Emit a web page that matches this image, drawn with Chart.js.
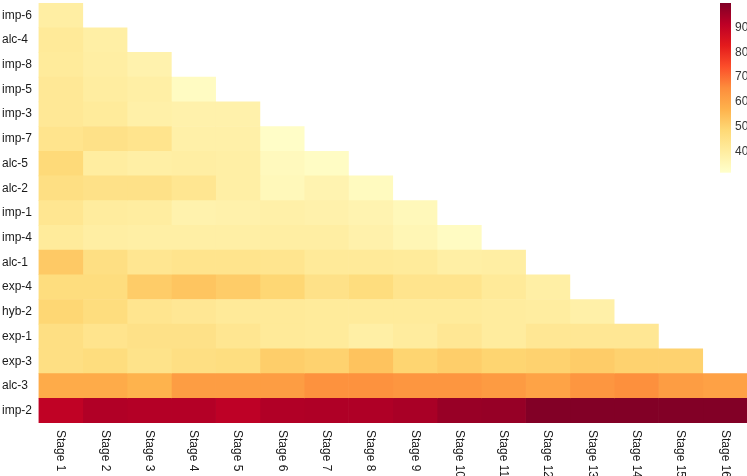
<!DOCTYPE html>
<html>
<head>
<meta charset="utf-8">
<script src="https://cdn.jsdelivr.net/npm/chart.js@4.4.0/dist/chart.umd.min.js"></script>
<style>
  html, body { margin: 0; padding: 0; background: #fff; }
  #wrap { width: 747px; height: 476px; }
</style>
</head>
<body>
<div id="wrap"><canvas id="heat"></canvas></div>
<script>
// rows, top to bottom
const rowLabels = ['imp-6','alc-4','imp-8','imp-5','imp-3','imp-7','alc-5','alc-2','imp-1','imp-4','alc-1','exp-4','hyb-2','exp-1','exp-3','alc-3','imp-2'];
const stageLabels = ['Stage 1','Stage 2','Stage 3','Stage 4','Stage 5','Stage 6','Stage 7','Stage 8','Stage 9','Stage 10','Stage 11','Stage 12','Stage 13','Stage 14','Stage 15','Stage 16'];

// values per row, starting at Stage 1
const imp6 = [39.5];
const alc4 = [41.5, 39];
const imp8 = [41, 39.5, 37.5];
const imp5 = [42, 40, 39, 33.5];
const imp3 = [42, 41, 38.5, 38, 38];
const imp7 = [44, 45, 44, 38.5, 38.5, 32.5];
const alc5 = [48, 40, 39, 39.5, 39, 34.5, 33];
const alc2 = [46, 45, 45, 43, 39, 35, 37, 34];
const imp1 = [43, 40.5, 40, 37.5, 38, 38.5, 38, 37, 35];
const imp4 = [41, 39.5, 39, 39, 39, 39.5, 39.5, 38, 36, 33.5];
const alc1 = [52, 46, 43, 44, 44, 43.5, 41.5, 41.5, 41, 39, 39.5];
const exp4 = [47, 47, 51.5, 53, 51.5, 49, 45, 47, 44, 44, 41.5, 39];
const hyb2 = [49, 47, 43.5, 42.5, 41.5, 41.5, 41, 41, 41, 41, 40.5, 40, 38.5];
const exp1 = [46, 44, 45, 45, 43, 41.5, 41, 39, 40.5, 42.5, 40.5, 42.5, 42.5, 42.5];
const exp3 = [46, 47, 44.5, 46, 46.5, 51, 50, 53.5, 49.5, 51, 49.5, 50, 51.5, 50, 50];
const alc3 = [58.7, 58.7, 57, 62, 62, 62, 64.5, 64.5, 63.5, 63.5, 62.5, 60.5, 63.5, 65, 62, 61];
const imp2 = [90.5, 93, 92.5, 92.5, 91, 93, 93.2, 93.2, 94.1, 96.5, 96.7, 99.5, 99.5, 99.5, 99.5, 99.5];

const rows = [imp6, alc4, imp8, imp5, imp3, imp7, alc5, alc2, imp1, imp4, alc1, exp4, hyb2, exp1, exp3, alc3, imp2];

const colorMin = 31.5, colorMax = 99.8;
const colorbarTicks = [40, 50, 60, 70, 80, 90];

// YlOrRd
const ramp = ['#ffffcc','#ffeda0','#fed976','#feb24c','#fd8d3c','#fc4e2a','#e31a1c','#bd0026','#800026'];
function hexRgb(h) { return [1,3,5].map(i => parseInt(h.substr(i,2),16)); }
const rampRgb = ramp.map(hexRgb);
function colorFor(v) {
    let t = (v - colorMin) / (colorMax - colorMin);
    t = Math.max(0, Math.min(1, t));
    let p = t * (rampRgb.length - 1);
    let i = Math.min(rampRgb.length - 2, Math.floor(p));
    let f = p - i;
    let c = rampRgb[i].map((a, k) => Math.round(a + (rampRgb[i+1][k] - a) * f));
    return `rgb(${c[0]},${c[1]},${c[2]})`;
}

// one dataset per stage, floating horizontal bars spanning [s, s+1]
const datasets = stageLabels.map((lab, s) => ({
    label: lab,
    data: rows.map(r => r[s] !== undefined ? [s, s + 1] : null),
    backgroundColor: rows.map(r => r[s] !== undefined ? colorFor(r[s]) : 'rgba(0,0,0,0)'),
    borderWidth: 0,
    grouped: false,
    categoryPercentage: 1.0,
    barPercentage: 1.0
}));

const stageLabelPlugin = {
    id: 'stageLabels',
    afterDraw(chart) {
        const ctx = chart.ctx;
        const xs = chart.scales.x;
        const top = chart.chartArea.bottom + 7;
        ctx.save();
        ctx.font = '12px "Liberation Sans", Arial, sans-serif';
        ctx.fillStyle = '#1a1a1a';
        ctx.textAlign = 'left';
        ctx.textBaseline = 'middle';
        stageLabels.forEach((lab, i) => {
            const x = xs.getPixelForValue(i + 0.5);
            ctx.save();
            ctx.translate(x, top);
            ctx.rotate(Math.PI / 2);
            ctx.fillText(lab, 0, 0);
            ctx.restore();
        });
        ctx.restore();
    }
};

const colorbarPlugin = {
    id: 'colorbar',
    afterDraw(chart) {
        const ctx = chart.ctx;
        const x0 = 720, w = 11, y0 = 3, y1 = 172.7;
        const grad = ctx.createLinearGradient(0, y1, 0, y0);
        ramp.forEach((c, i) => grad.addColorStop(i / (ramp.length - 1), c));
        ctx.save();
        ctx.fillStyle = grad;
        ctx.fillRect(x0, y0, w, y1 - y0);
        ctx.font = '12px "Liberation Sans", Arial, sans-serif';
        ctx.fillStyle = '#333';
        ctx.textAlign = 'left';
        ctx.textBaseline = 'middle';
        colorbarTicks.forEach(v => {
            const y = y1 - (v - colorMin) / (colorMax - colorMin) * (y1 - y0);
            ctx.fillText(String(v), x0 + w + 4, y);
        });
        ctx.restore();
    }
};

new Chart(document.getElementById('heat'), {
    type: 'bar',
    data: { labels: rowLabels, datasets: datasets },
    options: {
        indexAxis: 'y',
        responsive: true,
        maintainAspectRatio: false,
        animation: false,
        layout: { padding: { top: 3, right: 0, bottom: 53, left: 2 } },
        plugins: { legend: { display: false }, tooltip: { enabled: false } },
        scales: {
            x: { type: 'linear', min: 0, max: 16, display: false },
            y: {
                grid: { display: false },
                border: { display: false },
                ticks: {
                    crossAlign: 'far',
                    padding: 4,
                    color: '#1a1a1a',
                    font: { size: 12, family: '"Liberation Sans", Arial, sans-serif' }
                },
                afterFit(scale) {
                    scale.width = 36.5;
                    scale.paddingTop = 0;
                    scale.paddingBottom = 0;
                }
            }
        }
    },
    plugins: [stageLabelPlugin, colorbarPlugin]
});
</script>
</body>
</html>
